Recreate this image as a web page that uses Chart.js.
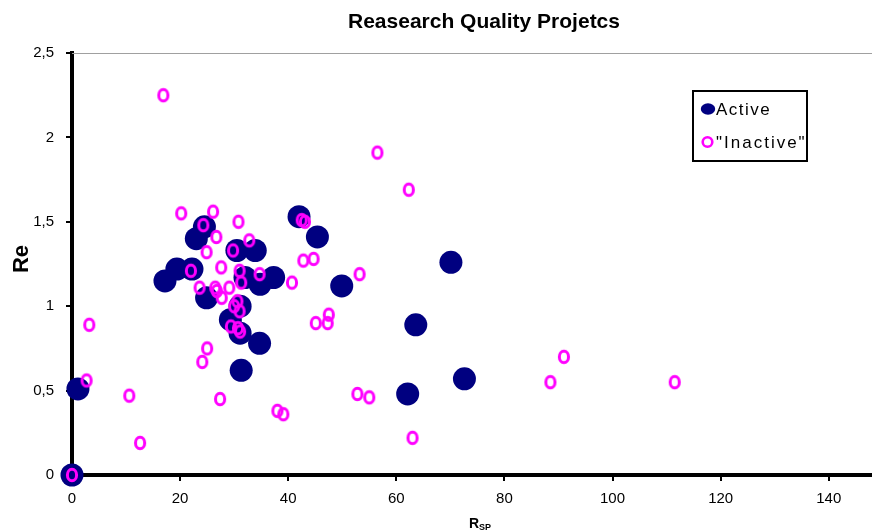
<!DOCTYPE html>
<html><head><meta charset="utf-8">
<script src="https://cdn.jsdelivr.net/npm/chart.js@4.4.1/dist/chart.umd.min.js"></script>
<style>html,body{margin:0;padding:0;background:#fff}#wrap{width:872px;height:531px}</style>
</head><body><div id="wrap"><canvas id="c" width="872" height="531"></canvas></div>
<script>
const chartTitle = 'Reasearch Quality Projetcs';
const seriesNames = ['Active', '"Inactive"'];
const xAxisTitle = ['R', 'SP'];
const yAxisTitle = 'Re';

const activeX = [0, 1.1, 17.2, 19.4, 22.2, 23.0, 24.5, 24.9, 29.3, 31.1, 31.1, 30.5, 33.9, 34.8, 37.3, 32.0, 34.7, 31.3, 42.0, 45.4, 49.9, 70.1, 63.6, 62.1, 72.6];
const activeY = [0, 0.51, 1.15, 1.22, 1.22, 1.40, 1.47, 1.05, 0.92, 1.00, 0.84, 1.33, 1.33, 1.13, 1.17, 1.17, 0.78, 0.62, 1.53, 1.41, 1.12, 1.26, 0.89, 0.48, 0.57];

const inactiveX = [0, 3.2, 2.7, 10.6, 12.6, 16.9, 20.2, 26.1, 24.3, 30.8, 26.7, 32.8, 24.9, 29.8, 27.6, 22.0, 31.0, 34.7, 31.3, 23.6, 26.5, 26.8, 29.1, 27.7, 30.6, 30.0, 31.0, 29.4, 30.7, 31.1, 25.0, 24.1, 27.4, 40.7, 42.5, 43.1, 42.8, 44.7, 53.2, 45.1, 47.5, 47.3, 56.5, 62.3, 38.0, 39.1, 52.8, 55.0, 63.0, 88.5, 91.0, 111.5];
const inactiveY = [0, 0.89, 0.56, 0.47, 0.19, 2.25, 1.55, 1.56, 1.48, 1.50, 1.41, 1.39, 1.32, 1.33, 1.23, 1.21, 1.21, 1.19, 1.14, 1.11, 1.11, 1.09, 1.11, 1.05, 1.03, 1.00, 0.97, 0.88, 0.87, 0.85, 0.75, 0.67, 0.45, 1.14, 1.51, 1.50, 1.27, 1.28, 1.19, 0.90, 0.95, 0.90, 1.91, 1.69, 0.38, 0.36, 0.48, 0.46, 0.22, 0.55, 0.70, 0.55];

const xTickValues = [0, 20, 40, 60, 80, 100, 120, 140];
const yTickValues = [0, 0.5, 1, 1.5, 2, 2.5];

const NAVY = '#000080';
const MAGENTA = '#FF00FF';
const FONT = '"Liberation Sans", Arial, sans-serif';

function ringImage() {
  const c = document.createElement('canvas');
  c.width = 16; c.height = 18;
  const g = c.getContext('2d');
  g.strokeStyle = MAGENTA; g.lineWidth = 3;
  g.beginPath(); g.ellipse(8, 9, 4.6, 5.8, 0, 0, Math.PI * 2); g.stroke();
  return c;
}

const toPts = (xs, ys) => xs.map((x, i) => ({x: x, y: ys[i]}));

const decor = {
  id: 'decor',
  afterDraw(chart) {
    const ctx = chart.ctx;
    const a = chart.chartArea;
    ctx.save();
    ctx.strokeStyle = '#a0a0a0'; ctx.lineWidth = 1;
    ctx.beginPath(); ctx.moveTo(a.left, a.top + 0.5); ctx.lineTo(a.right, a.top + 0.5); ctx.stroke();
    ctx.fillStyle = '#000';
    ctx.font = 'bold 21px ' + FONT;
    ctx.textAlign = 'center'; ctx.textBaseline = 'middle';
    ctx.fillText(chartTitle, 484, 22);
    ctx.textAlign = 'left'; ctx.textBaseline = 'alphabetic';
    ctx.font = 'bold 14px ' + FONT;
    const rw = ctx.measureText(xAxisTitle[0]).width;
    ctx.fillText(xAxisTitle[0], 469, 528);
    ctx.font = 'bold 9px ' + FONT;
    ctx.fillText(xAxisTitle[1], 469 + rw, 530);
    ctx.save();
    ctx.translate(28, 259);
    ctx.rotate(-Math.PI / 2);
    ctx.font = 'bold 22px ' + FONT;
    ctx.textAlign = 'center'; ctx.textBaseline = 'alphabetic';
    ctx.fillText(yAxisTitle, 0, 0);
    ctx.restore();
    ctx.strokeStyle = '#000'; ctx.lineWidth = 2;
    ctx.strokeRect(693, 91, 114, 70);
    ctx.fillStyle = NAVY;
    ctx.beginPath(); ctx.ellipse(708, 109, 7.2, 5.8, 0, 0, Math.PI * 2); ctx.fill();
    ctx.strokeStyle = MAGENTA; ctx.lineWidth = 2.6;
    ctx.beginPath(); ctx.arc(707.5, 142, 4.8, 0, Math.PI * 2); ctx.stroke();
    ctx.fillStyle = '#000';
    ctx.font = '17px ' + FONT;
    ctx.textAlign = 'left'; ctx.textBaseline = 'middle';
    ctx.letterSpacing = '1.5px';
    ctx.fillText(seriesNames[0], 716, 110);
    ctx.letterSpacing = '2px';
    ctx.fillText(seriesNames[1], 716, 143);
    ctx.restore();
  }
};

new Chart(document.getElementById('c'), {
  type: 'scatter',
  data: {
    datasets: [
      {label: seriesNames[0], data: toPts(activeX, activeY), pointStyle: 'circle', pointRadius: 11.5, pointHoverRadius: 11.5,
       backgroundColor: NAVY, borderColor: NAVY, borderWidth: 0, order: 2, clip: false},
      {label: seriesNames[1], data: toPts(inactiveX, inactiveY), pointStyle: ringImage(), pointRadius: 6, pointHoverRadius: 6,
       backgroundColor: MAGENTA, borderColor: MAGENTA, order: 1, clip: false}
    ]
  },
  options: {
    responsive: false,
    animation: false,
    devicePixelRatio: 1,
    layout: {autoPadding: false, padding: {top: 53, left: 0, right: 0, bottom: 0}},
    plugins: {legend: {display: false}, title: {display: false}, tooltip: {enabled: false}},
    scales: {
      x: {
        type: 'linear', min: 0, max: 148,
        afterFit(s) { s.height = 56; s.paddingLeft = 0; s.paddingRight = 0; },
        afterBuildTicks(s) { s.ticks = xTickValues.map(v => ({value: v})); },
        ticks: {autoSkip: false, includeBounds: false, maxRotation: 0, padding: 9, color: '#000',
                font: {family: FONT, size: 15}, callback: v => String(v)},
        grid: {display: true, drawOnChartArea: false, drawTicks: true, tickLength: 6, color: '#000', lineWidth: 2},
        border: {display: true, color: '#000', width: 4}
      },
      y: {
        type: 'linear', min: 0, max: 2.5,
        afterFit(s) { s.width = 72; s.paddingTop = 0; s.paddingBottom = 0; },
        afterBuildTicks(s) { s.ticks = yTickValues.map(v => ({value: v})); },
        ticks: {autoSkip: false, includeBounds: false, padding: 12, color: '#000',
                font: {family: FONT, size: 15}, callback: v => String(v).replace('.', ',')},
        grid: {display: true, drawOnChartArea: false, drawTicks: true, tickLength: 6, color: '#000', lineWidth: 2},
        border: {display: true, color: '#000', width: 4}
      }
    }
  },
  plugins: [decor]
});
</script>
</body></html>
